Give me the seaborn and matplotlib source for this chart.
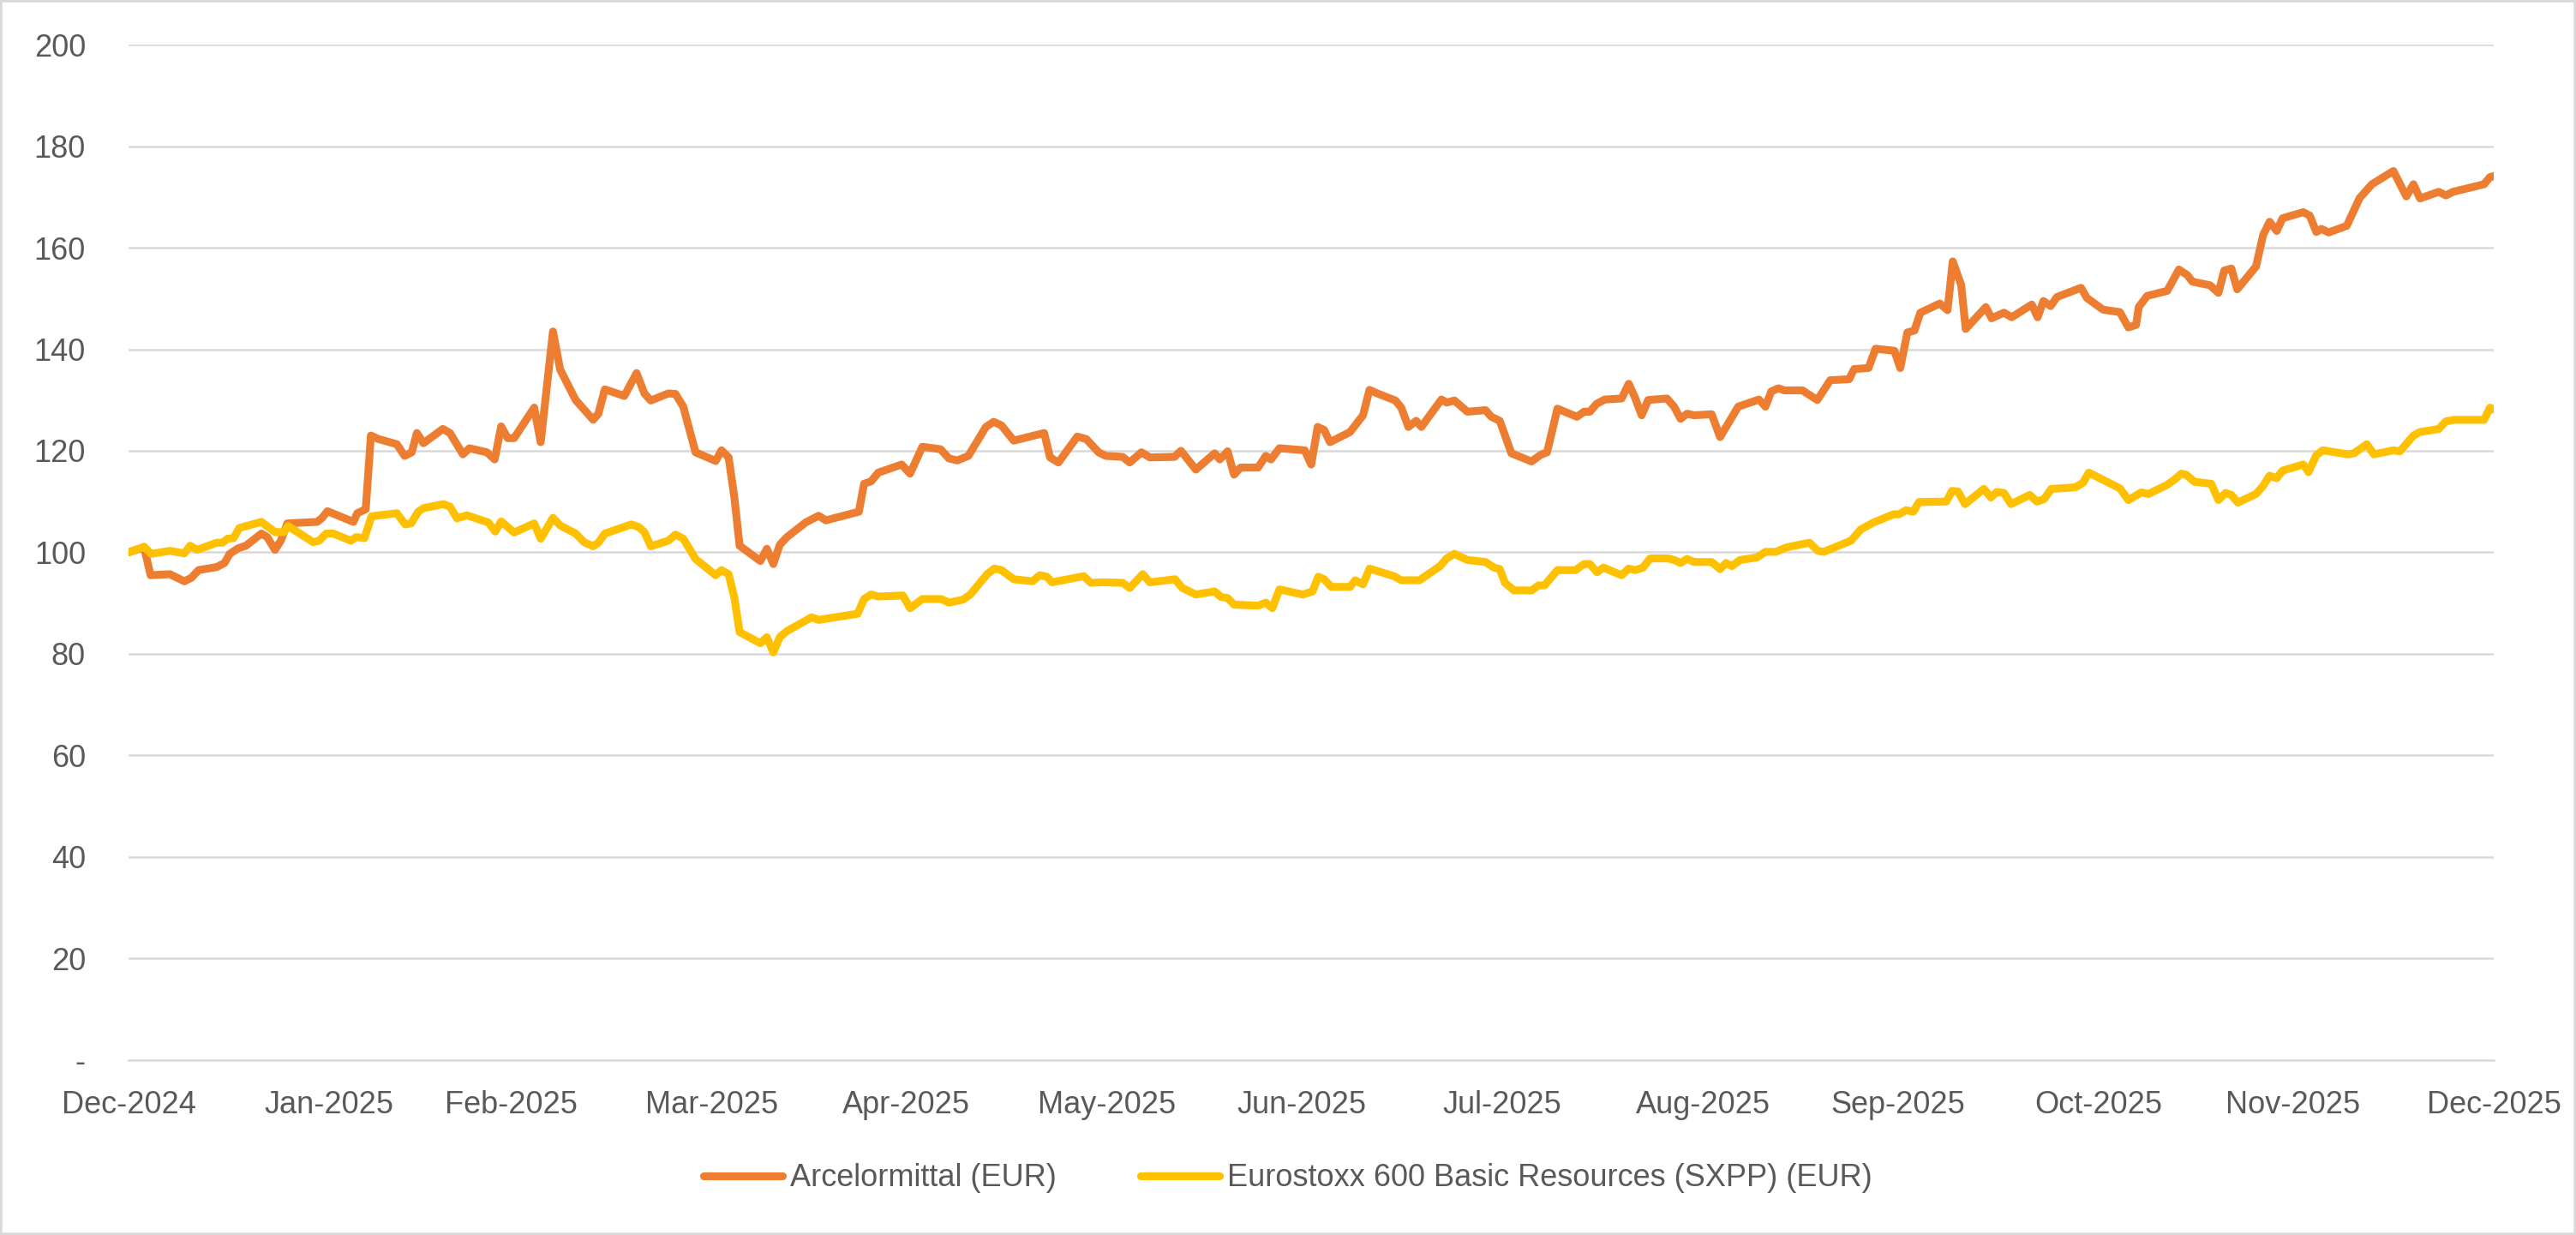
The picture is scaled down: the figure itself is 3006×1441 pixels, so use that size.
import matplotlib
matplotlib.use("Agg")
import seaborn as sns
import numpy as np
import pandas as pd
import matplotlib.pyplot as plt
import matplotlib.dates as mdates
from matplotlib.ticker import FuncFormatter
from matplotlib.patches import Rectangle

# index = 100 at the first date, x given as days after the start date
start_date = "2024-12-31"
end_date = "2025-12-31"

arc_days = [0, 2.4, 3.4, 6.4, 8.6, 9.7, 10.8, 13.6, 14.8, 15.6, 16.9, 18.1, 20.5, 21.4, 22.6, 23.5, 24.5,
            29.1, 29.8, 30.7, 34.7, 35.3, 36.6, 37.4, 38.6, 41.4, 42.6, 43.7, 44.5, 45.5, 48.5, 49.6,
            51.6, 52.6, 55.3, 56.5, 57.5, 58.5, 59.5,
            62.6, 63.6, 65.5, 66.6, 69, 71.7, 72.5, 73.5, 76.5, 78.4, 79.6, 80.6, 83.3, 84.4, 85.6, 87.5,
            90.6, 91.5, 92.6, 93.5, 94.3, 97.5, 98.5, 99.5, 100.5, 101.6, 104.5, 106.5, 107.6, 112.7,
            113.5, 114.6, 115.7, 119.3, 120.6,
            122.5, 125.3, 126.6, 127.9, 129.6, 132.3, 133.5, 134.7, 136.6, 141.3, 142.2, 143.5, 146.4,
            147.8, 149.7, 150.8, 153.4, 154.5, 156.3, 157.6, 161.4, 162.4, 164.7, 167.6, 168.4, 169.6,
            170.6, 171.6, 174.3, 175.5, 176.3, 177.6, 181.5, 182.5, 183.5,
            184.5, 185.4, 188.5, 190.5, 191.5, 192.7, 195.5, 196.4, 197.5, 198.7, 199.5, 202.6, 203.4,
            204.6, 206.6, 209.4, 210.3, 211.6, 213.4, 216.5, 217.9, 218.9, 220.5, 223.5, 224.6, 225.5,
            226.5, 227.8, 230.4, 231.5, 232.4, 233.5, 234.5, 237.4, 238.5, 239.5, 240.5, 241.6,
            244.3, 245.6, 248.4, 251.6, 252.6, 253.5, 254.6, 255.5, 258.3, 260.6, 262.6, 265.5, 266.3,
            268.5, 269.6, 272.5, 273.4, 274.5, 275.6, 276.5, 279.5, 280.7, 281.5, 282.8, 283.5, 286.6,
            287.5, 289.4, 290.6, 293.7, 294.6, 295.5, 296.6, 297.6, 301.3, 302.2,
            304.7, 307.3, 308.6, 309.8, 310.2, 311.5, 314.6, 316.4, 317.7, 318.5, 321.2, 322.5, 323.4,
            324.5, 325.4, 328.3, 329.4, 330.4, 331.5, 332.4, 335.6, 336.6, 337.6, 338.4, 339.5, 342.3,
            344.3, 346.2, 349.5, 351.5, 352.6, 353.6, 356.5, 357.6, 358.7, 363.5, 364.4, 365]
arc_values = [100, 101, 95.5, 95.7, 94.3, 95, 96.5, 97.1, 97.9, 99.7, 100.8, 101.3, 103.7, 103, 100.5, 102.3, 105.7,
              106, 106.7, 108.1, 106, 107.7, 108.5, 123, 122.3, 121.3, 119, 119.7, 123.5, 121.5, 124.3, 123.5,
              119.3, 120.5, 119.7, 118.3, 124.8, 122.5, 122.5,
              128.5, 121.7, 143.5, 136, 130, 126.1, 127.3, 132.1, 130.8, 135.3, 131.3, 129.9, 131.3, 131.2, 128.7, 119.7,
              118, 120.1, 118.7, 110.7, 101.3, 98.3, 100.7, 97.7, 101.5, 103, 105.9, 107.2, 106.3, 108,
              113.5, 114, 115.7, 117.3, 115.5,
              120.8, 120.3, 118.5, 118.1, 119, 124.7, 125.7, 125, 122, 123.5, 118.7, 117.7, 122.8,
              122.3, 119.7, 119, 118.8, 117.7, 119.7, 118.7, 118.8, 120, 116.3, 119.5, 118.3, 119.9,
              115.3, 116.7, 116.7, 119, 118.3, 120.5, 120.1, 117.3, 124.7,
              124.1, 121.7, 123.7, 127, 132, 131.3, 129.9, 128.5, 124.7, 125.9, 124.7, 130.1, 129.5,
              129.9, 127.7, 128, 126.7, 125.9, 119.5, 117.9, 119.2, 119.7, 128.3, 126.7, 127.7, 127.7,
              129.2, 130.1, 130.3, 133.2, 130.7, 127, 130, 130.3, 128.7, 126.3, 127.3, 127,
              127.2, 122.7, 128.7, 130.1, 128.7, 131.7, 132.3, 131.9, 131.9, 130, 133.9, 134.1, 136.1,
              136.3, 140.1, 139.7, 136.3, 143.3, 143.7, 147.2, 149, 147.7, 157.3, 152.7, 144, 148.3,
              146.1, 147.2, 146.3, 148.8, 146.3, 149.5, 148.5, 150.3, 152.1, 150.1,
              147.8, 147.3, 144.3, 144.8, 148.3, 150.5, 151.5, 155.7, 154.6, 153.3, 152.6, 151.1, 155.5,
              155.9, 151.8, 156.3, 162.5, 165.1, 163.3, 165.8, 167, 166.3, 163.1, 163.7, 163, 164.3,
              169.8, 172.5, 175.1, 170.1, 172.5, 169.7, 171, 170.3, 171, 172.5, 173.9, 174.1]

sxpp_days = [0, 2.4, 3.5, 6.4, 8.6, 9.5, 10.6, 13.6, 14.5, 15.3, 16.2, 17.1, 20.5, 22.6, 24, 24.6, 28.5, 29.4,
             30.5, 31.6, 34.3, 35.1, 36.4, 37.5, 41.4, 42.7, 43.6, 44.7, 45.5, 48.6, 49.6, 50.7, 52.2,
             55.5, 56.6, 57.5,
             59.5, 62.6, 63.6, 65.5, 66.6, 69, 70.3, 71.7, 72.5, 73.5, 77.6, 78.7, 79.6, 80.6, 83.3, 84.4,
             85.6, 87.5, 90.6, 91.5, 92.6, 93.5, 94.3, 97.5, 98.5, 99.5, 100.5, 101.6, 105.4, 106.5,
             112.5, 113.5, 114.6, 115.7, 119.5, 120.6,
             122.5, 125.4, 126.6, 128.8, 129.9, 132.5, 133.6, 134.7, 136.6, 139.5, 140.6, 141.7, 142.5,
             147.4, 148.5, 150.3, 153.4, 154.5, 156.5, 157.6, 161.5, 162.6, 164.7, 167.6, 168.6, 169.6,
             170.6, 174.3, 175.5, 176.5, 177.6,
             181.2, 182.7, 183.6, 184.5, 185.6, 188.5, 189.3, 190.5, 191.5, 195.3, 196.4, 199.2, 202.4,
             203.4, 204.6, 206.6, 209.4, 210.7, 211.6, 212.4, 213.8, 216.5, 217.6, 218.5, 220.5, 223.3,
             224.6, 225.5, 226.6, 227.6, 230.4, 231.5, 232.5, 233.7, 234.8, 237.6, 238.5, 239.5, 240.5,
             241.6,
             244.3, 245.6, 246.5, 247.4, 248.7, 251.3, 252.6, 254.2, 255.9, 259.4, 260.7, 261.6, 265.8,
             267.3, 269.3, 272.4, 273.2, 274.3, 275.4, 276.3, 280.5, 281.4, 282.3, 283.4, 286.3, 287.4,
             288.3, 289.4, 290.5, 293.4, 294.5, 295.6, 296.7, 300.4, 301.6, 302.5,
             304.2, 307.3, 308.6, 310.6, 311.7, 314.6, 315.7, 316.8, 317.5, 318.8, 321.4, 322.5, 323.6,
             324.5, 325.5, 328.3, 329.4, 330.4, 331.5, 332.4, 335.6, 336.4, 337.6, 338.6, 342.5, 343.4,
             345.4, 346.5, 349.5, 350.5, 352.6, 353.6, 356.5, 357.6, 358.9, 363.5, 364.4, 365]
sxpp_values = [100, 101.1, 99.7, 100.3, 99.8, 101.3, 100.5, 101.9, 101.9, 102.7, 102.8, 104.8, 106, 104, 104, 105.2, 102, 102.3,
               103.7, 103.7, 102.3, 103, 102.8, 107.1, 107.7, 105.5, 105.7, 108, 108.7, 109.5, 109, 106.7, 107.3,
               105.9, 104.1, 106.1,
               103.9, 105.7, 102.7, 106.8, 105.3, 103.7, 102, 101.2, 101.9, 103.7, 105.5, 105, 104, 101.2, 102.3, 103.5,
               102.7, 98.7, 95.5, 96.5, 95.7, 91, 84.3, 82.1, 83.3, 80.3, 83.3, 84.5, 87.2, 86.7,
               87.9, 90.8, 91.7, 91.3, 91.5, 89,
               90.8, 90.8, 90.1, 90.7, 91.7, 95.7, 96.8, 96.5, 94.7, 94.3, 95.5, 95.2, 94.1,
               95.3, 94, 94.1, 94, 93, 95.7, 94.1, 94.7, 93, 91.7, 92.3, 91.2, 91,
               89.7, 89.5, 90.1, 89, 92.7,
               91.7, 92.3, 95.2, 94.7, 93.2, 93.2, 94.5, 93.7, 96.8, 95.3, 94.5, 94.5, 97.3,
               98.8, 99.7, 98.5, 98.1, 97, 96.7, 94, 92.5, 92.5, 93.5, 93.5, 96.5, 96.5,
               97.7, 97.7, 96.1, 97, 95.5, 96.8, 96.5, 97, 98.8, 98.8, 98.5, 97.9, 98.7,
               98.1,
               98.1, 96.7, 97.9, 97.3, 98.5, 99, 100.1, 100.1, 101, 101.9, 100.3, 100.1, 102.3,
               104.5, 105.9, 107.5, 107.5, 108.3, 108, 109.9, 110, 112.1, 112, 109.5, 112.5, 110.8,
               111.9, 111.7, 109.5, 111.3, 110, 110.5, 112.5, 112.8, 113.7, 115.7,
               114.6, 112.6, 110.3, 111.8, 111.5, 113.3, 114.3, 115.5, 115.3, 113.9, 113.5, 110.3, 111.7,
               111.3, 109.8, 111.5, 113.1, 115.1, 114.6, 116.1, 117.3, 115.8, 119.1, 120.1, 119.3, 119.5,
               121.3, 119.3, 120.1, 119.9, 123, 123.7, 124.3, 125.8, 126.1, 126.1, 128.5, 128.1]

series_names = ["Arcelormittal (EUR)", "Eurostoxx 600 Basic Resources (SXPP) (EUR)"]
colors = ["#ED7D31", "#FFC000"]
y_ticks = list(range(0, 201, 20))

start = pd.Timestamp(start_date)
df = pd.concat([
    pd.DataFrame({"date": start + pd.to_timedelta(arc_days, unit="D"),
                  "value": arc_values, "series": series_names[0]}),
    pd.DataFrame({"date": start + pd.to_timedelta(sxpp_days, unit="D"),
                  "value": sxpp_values, "series": series_names[1]}),
], ignore_index=True)

sns.set_style("white")
plt.rcParams["font.family"] = ["Liberation Sans", "DejaVu Sans"]
text_col = "#595959"
grid_col = "#D9D9D9"

fig = plt.figure(figsize=(30.06, 14.41), dpi=100)
ax = fig.add_axes([0.0499, 0.1416, 0.9182, 0.8223])

sns.lineplot(data=df, x="date", y="value", hue="series", hue_order=series_names,
             palette=colors, linewidth=6.6, estimator=None, ax=ax)
for ln in ax.lines:
    ln.set_solid_joinstyle("round")
    ln.set_solid_capstyle("round")

ax.set_xlim(pd.Timestamp(start_date), pd.Timestamp(end_date))
ax.set_ylim(0, 200)
ax.set_xticks(pd.date_range(start_date, end_date, freq="ME"))
ax.xaxis.set_major_formatter(mdates.DateFormatter("%b-%Y"))
ax.set_yticks(y_ticks)
ax.yaxis.set_major_formatter(FuncFormatter(lambda v, p: "-" if v == 0 else f"{v:.0f}"))

ax.yaxis.grid(True, color=grid_col, linewidth=1.8)
ax.xaxis.grid(False)
ax.set_axisbelow(True)
for s in ["top", "right", "left"]:
    ax.spines[s].set_visible(False)
ax.spines["bottom"].set_color(grid_col)
ax.spines["bottom"].set_linewidth(1.8)

ax.tick_params(axis="x", length=9.5, width=1.8, color=grid_col, pad=16, labelsize=26, labelcolor=text_col)
ax.tick_params(axis="y", length=0, pad=36, labelsize=26, labelcolor=text_col)
ax.set_xlabel("")
ax.set_ylabel("")

handles, labels = ax.get_legend_handles_labels()
ax.get_legend().remove()
leg = fig.legend(handles, labels, loc="center", bbox_to_anchor=(0.5, 0.046), ncol=2, frameon=False,
                 fontsize=26, handlelength=2.55, handletextpad=0.25, columnspacing=2.7)
for t in leg.get_texts():
    t.set_color(text_col)
for h in leg.legend_handles:
    h.set_linewidth(6.6)

fig.patches.append(Rectangle((0, 0), 1, 1, transform=fig.transFigure, fill=False,
                             edgecolor=grid_col, linewidth=4))

fig.savefig("out.png", dpi=100)
